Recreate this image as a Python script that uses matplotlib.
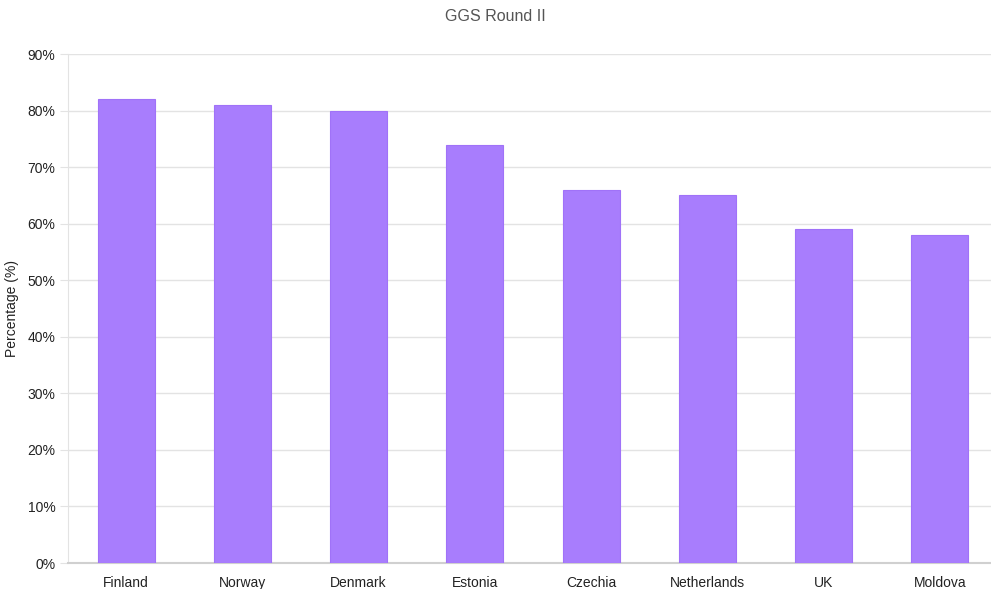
import matplotlib
matplotlib.use("Agg")
import matplotlib.pyplot as plt
import numpy as np
from matplotlib.ticker import PercentFormatter

countries = ["Finland", "Norway", "Denmark", "Estonia", "Czechia", "Netherlands", "UK", "Moldova"]
values = [82, 81, 80, 74, 66, 65, 59, 58]
y_ticks = [0, 10, 20, 30, 40, 50, 60, 70, 80, 90]

plt.rcParams['font.family'] = ['Liberation Sans', 'DejaVu Sans']

fig = plt.figure(figsize=(9.91, 5.89), dpi=100)
# plot area runs a bit past the right edge of the image, like the original
ax = fig.add_axes([0.0686, 0.0441, 0.9385, 0.8642])

x = np.arange(len(countries))
ax.bar(x, values, 0.49, color='#a87dfd', edgecolor='#a072f8', linewidth=0.8, zorder=3)

ax.set_xlim(-0.5, len(countries) - 0.5)
ax.set_ylim(0, 90)
ax.set_yticks(y_ticks)
ax.yaxis.set_major_formatter(PercentFormatter(decimals=0))
ax.set_xticks(x)
ax.set_xticklabels(countries)

# grid and spines
ax.grid(axis='y', color='#e3e3e3', linewidth=1, zorder=0)
for s in ['top', 'right']:
    ax.spines[s].set_visible(False)
ax.spines['left'].set_color('#e3e3e3')
ax.spines['bottom'].set_color('#d0d0d0')
ax.spines['bottom'].set_linewidth(1.5)
ax.tick_params(axis='y', length=6, color='#e3e3e3', labelsize=10, labelcolor='#222222', pad=3)
ax.tick_params(axis='x', length=0, labelsize=10, labelcolor='#222222', pad=9.5)

ax.set_ylabel('Percentage (%)', fontsize=10, color='#222222', labelpad=6)
fig.suptitle('GGS Round II', fontsize=11.5, color='#555555', y=0.985)

fig.savefig('out.png', dpi=100, facecolor='white')
